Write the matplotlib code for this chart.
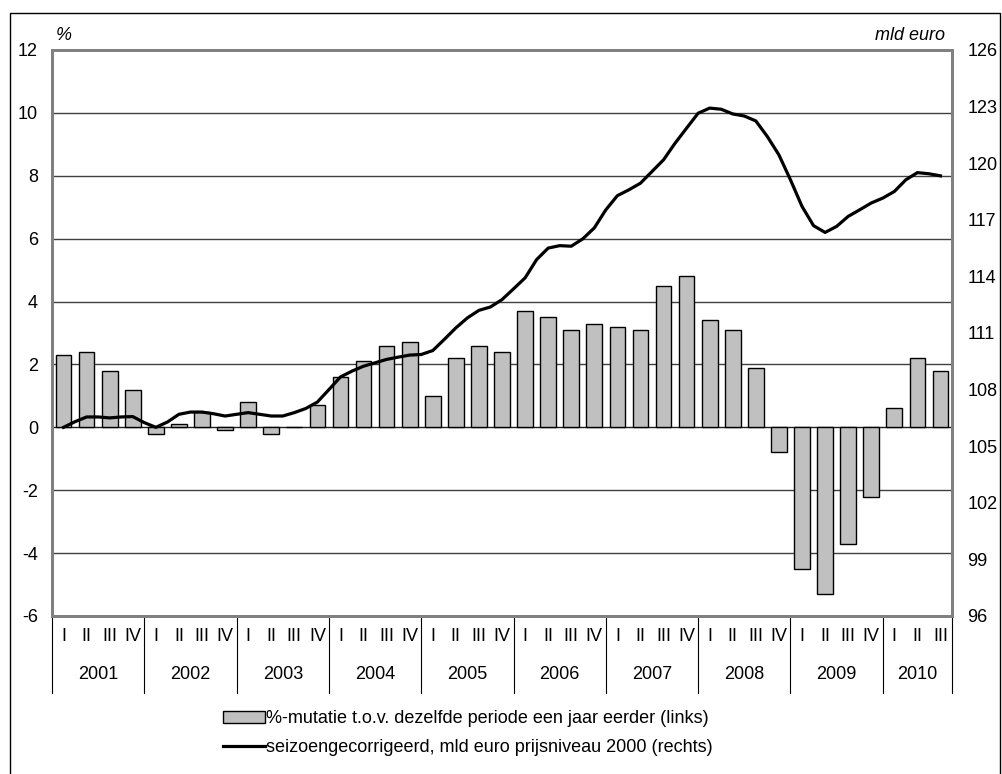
import numpy as np
import matplotlib
matplotlib.use("Agg")
from matplotlib import pyplot as plt
from matplotlib.patches import Rectangle
import matplotlib.transforms as mtransforms

plt.rcParams['font.family'] = ['Liberation Sans', 'DejaVu Sans']
plt.rcParams['axes.unicode_minus'] = False

# quarterly data 2001 Q1 - 2010 Q3
years = ['2001', '2002', '2003', '2004', '2005', '2006', '2007', '2008', '2009', '2010']
quarters = ['I', 'II', 'III', 'IV']
n_quarters_last = 3

# %-mutatie t.o.v. zelfde periode jaar eerder (left axis)
mutatie = [2.3, 2.4, 1.8, 1.2,
           -0.2, 0.1, 0.5, -0.1,
           0.8, -0.2, 0.0, 0.7,
           1.6, 2.1, 2.6, 2.7,
           1.0, 2.2, 2.6, 2.4,
           3.7, 3.5, 3.1, 3.3,
           3.2, 3.1, 4.5, 4.8,
           3.4, 3.1, 1.9, -0.8,
           -4.5, -5.3, -3.7, -2.2,
           0.6, 2.2, 1.8]

# seizoengecorrigeerd, mld euro (right axis), read every half quarter
niveau = [106.0, 106.3, 106.55, 106.55, 106.5, 106.55, 106.57, 106.25,
          106.0, 106.28, 106.69, 106.81, 106.81, 106.72, 106.6, 106.69,
          106.78, 106.69, 106.6, 106.6, 106.78, 107.0, 107.34, 108.0,
          108.67, 108.98, 109.24, 109.42, 109.6, 109.72, 109.83, 109.86,
          110.07, 110.66, 111.27, 111.8, 112.2, 112.38, 112.77, 113.34,
          113.92, 114.89, 115.5, 115.63, 115.6, 115.99, 116.57, 117.53,
          118.28, 118.59, 118.94, 119.56, 120.18, 121.06, 121.86, 122.65,
          122.92, 122.86, 122.61, 122.5, 122.24, 121.41, 120.44, 119.12,
          117.71, 116.69, 116.33, 116.65, 117.18, 117.53, 117.89, 118.15,
          118.5, 119.12, 119.5, 119.44, 119.33]

fig = plt.figure(figsize=(10.02, 7.74), dpi=100)

# outer frame
fig.patches.append(Rectangle((10 / 1002, -0.05), 990 / 1002, 1 - 13 / 774 + 0.05,
                             transform=fig.transFigure, fill=False,
                             edgecolor='black', linewidth=1.0))

ax = fig.add_axes([52 / 1002, 1 - 616 / 774, 900 / 1002, 566 / 774])
x = np.arange(len(mutatie))
ax.bar(x, mutatie, width=0.68, color='#c0c0c0', edgecolor='black',
       linewidth=1.0, zorder=3)
ax.set_xlim(-0.5, len(mutatie) - 0.5)
ax.set_ylim(-6, 12)
ax.set_yticks(np.arange(-6, 13, 2))
for v in np.arange(-4, 12, 2):
    ax.axhline(v, color='#202020' if v == 0 else '#404040',
               linewidth=1.0, zorder=1)
ax.tick_params(axis='y', length=0, pad=10, labelsize=13)
ax.set_xticks([])
for s in ax.spines.values():
    s.set_color('#808080')
    s.set_linewidth(2)

ax2 = ax.twinx()
ax2.set_ylim(96, 126)
ax2.set_yticks(np.arange(96, 127, 3))
ax2.tick_params(axis='y', length=0, pad=11, labelsize=13)
for s in ax2.spines.values():
    s.set_color('#808080')
    s.set_linewidth(2)
xl = np.arange(len(niveau)) / 2.0
ax2.plot(xl, niveau, color='black', linewidth=2.3, zorder=4)

# category axis: quarters and years
trans = mtransforms.blended_transform_factory(ax.transData, ax.transAxes)
i = 0
for yi, yr in enumerate(years):
    nq = n_quarters_last if yi == len(years) - 1 else 4
    for q in range(nq):
        ax.text(i + q, -0.037, quarters[q], transform=trans, ha='center',
                va='center', fontsize=13)
    ax.text(i + (nq - 1) / 2.0, -0.104, yr, transform=trans, ha='center',
            va='center', fontsize=13)
    ax.plot([i - 0.5, i - 0.5], [0, -0.136], transform=trans, color='black',
            linewidth=0.8, clip_on=False)
    i += nq
ax.plot([i - 0.5, i - 0.5], [0, -0.136], transform=trans, color='black',
        linewidth=0.8, clip_on=False)

fig.text(56 / 1002, 1 - 35 / 774, '%', fontsize=13, style='italic', va='center')
fig.text(945 / 1002, 1 - 35 / 774, 'mld euro', fontsize=13, style='italic',
         va='center', ha='right')

handles = [Rectangle((0, 0), 1, 1, facecolor='#c0c0c0', edgecolor='black'),
           plt.Line2D([0], [0], color='black', linewidth=2.3)]
labels = ['%-mutatie t.o.v. dezelfde periode een jaar eerder (links)',
          'seizoengecorrigeerd, mld euro prijsniveau 2000 (rechts)']
fig.legend(handles, labels, loc='center', bbox_to_anchor=(468 / 1002, 1 - 733 / 774),
           frameon=False, fontsize=13, handlelength=2.3, handleheight=0.65,
           handletextpad=0.1, labelspacing=0.65)

fig.savefig('out.png', dpi=100)
